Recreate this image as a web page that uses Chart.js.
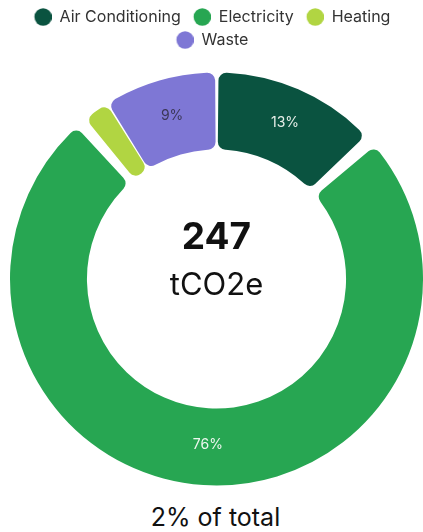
<!DOCTYPE html>
<html>
<head>
<meta charset="utf-8">
<script src="https://cdn.jsdelivr.net/npm/chart.js@4"></script>
<style>
  body { margin: 0; background: #fff; font-family: Inter, sans-serif; }
  #wrap { width: 423px; height: 500px; position: relative; }
  #note { text-align: center; font-size: 25px; color: #111; margin-top: 2px; padding-left: 8px; }
</style>
</head>
<body>
<div id="wrap"><canvas id="donut"></canvas></div>
<div id="note">2% of total</div>
<script>
const categories = ["Air Conditioning", "Electricity", "Heating", "Waste"];
const emissions = [32, 188, 5, 22];
const colors = ["#0a5340", "#27a652", "#b1d542", "#7e77d5"];
const labelColors = ["#e8efe9", "#eef7ef", "#333333", "#3b3757"];
const total = emissions.reduce((a, b) => a + b, 0);

// legend dot with a little blank space in front of it
function dot(color) {
  const c = document.createElement("canvas");
  c.width = 23;
  c.height = 18;
  const g = c.getContext("2d");
  g.fillStyle = color;
  g.beginPath();
  g.arc(14.5, 9, 8.7, 0, Math.PI * 2);
  g.fill();
  return c;
}

const sliceLabels = {
  id: "sliceLabels",
  afterDatasetsDraw(chart) {
    const ctx = chart.ctx;
    const meta = chart.getDatasetMeta(0);
    ctx.save();
    ctx.font = "14px Inter";
    ctx.textAlign = "center";
    ctx.textBaseline = "middle";
    meta.data.forEach((arc, i) => {
      const pct = Math.round(emissions[i] / total * 100);
      if (pct < 5) return;
      const pos = arc.tooltipPosition();
      ctx.fillStyle = labelColors[i];
      ctx.fillText(pct + "%", pos.x + 2, pos.y - 2);
    });
    ctx.restore();
  }
};

const centerText = {
  id: "centerText",
  afterDraw(chart) {
    const ctx = chart.ctx;
    const arc = chart.getDatasetMeta(0).data[0];
    ctx.save();
    ctx.textAlign = "center";
    ctx.textBaseline = "middle";
    ctx.fillStyle = "#111";
    ctx.font = "bold 37px Inter";
    ctx.fillText(String(total), arc.x, arc.y - 41);
    ctx.font = "31px Inter";
    ctx.fillText("tCO2e", arc.x, arc.y + 7);
    ctx.restore();
  }
};

// legend sits a little left of the ring's centre
const legendShift = {
  id: "legendShift",
  afterLayout(chart) {
    chart.legend.left -= 7;
    chart.legend.right -= 7;
  }
};

const baseLabels = Chart.overrides.doughnut.plugins.legend.labels.generateLabels;

new Chart(document.getElementById("donut"), {
  type: "doughnut",
  data: {
    labels: categories,
    datasets: [{
      data: emissions,
      backgroundColor: colors,
      borderWidth: 0,
      borderRadius: 8,
      spacing: 8
    }]
  },
  options: {
    responsive: true,
    maintainAspectRatio: false,
    animation: false,
    cutout: "62%",
    layout: { padding: { left: 10, right: 0, top: 2 } },
    plugins: {
      tooltip: { enabled: false },
      legend: {
        position: "top",
        labels: {
          usePointStyle: true,
          pointStyleWidth: 23,
          padding: 7,
          color: "#333",
          font: { family: "Inter", size: 16 },
          generateLabels(chart) {
            return baseLabels(chart).map((item, i) => {
              item.pointStyle = dot(colors[i]);
              return item;
            });
          }
        }
      }
    }
  },
  plugins: [sliceLabels, centerText, legendShift]
});
</script>
</body>
</html>
